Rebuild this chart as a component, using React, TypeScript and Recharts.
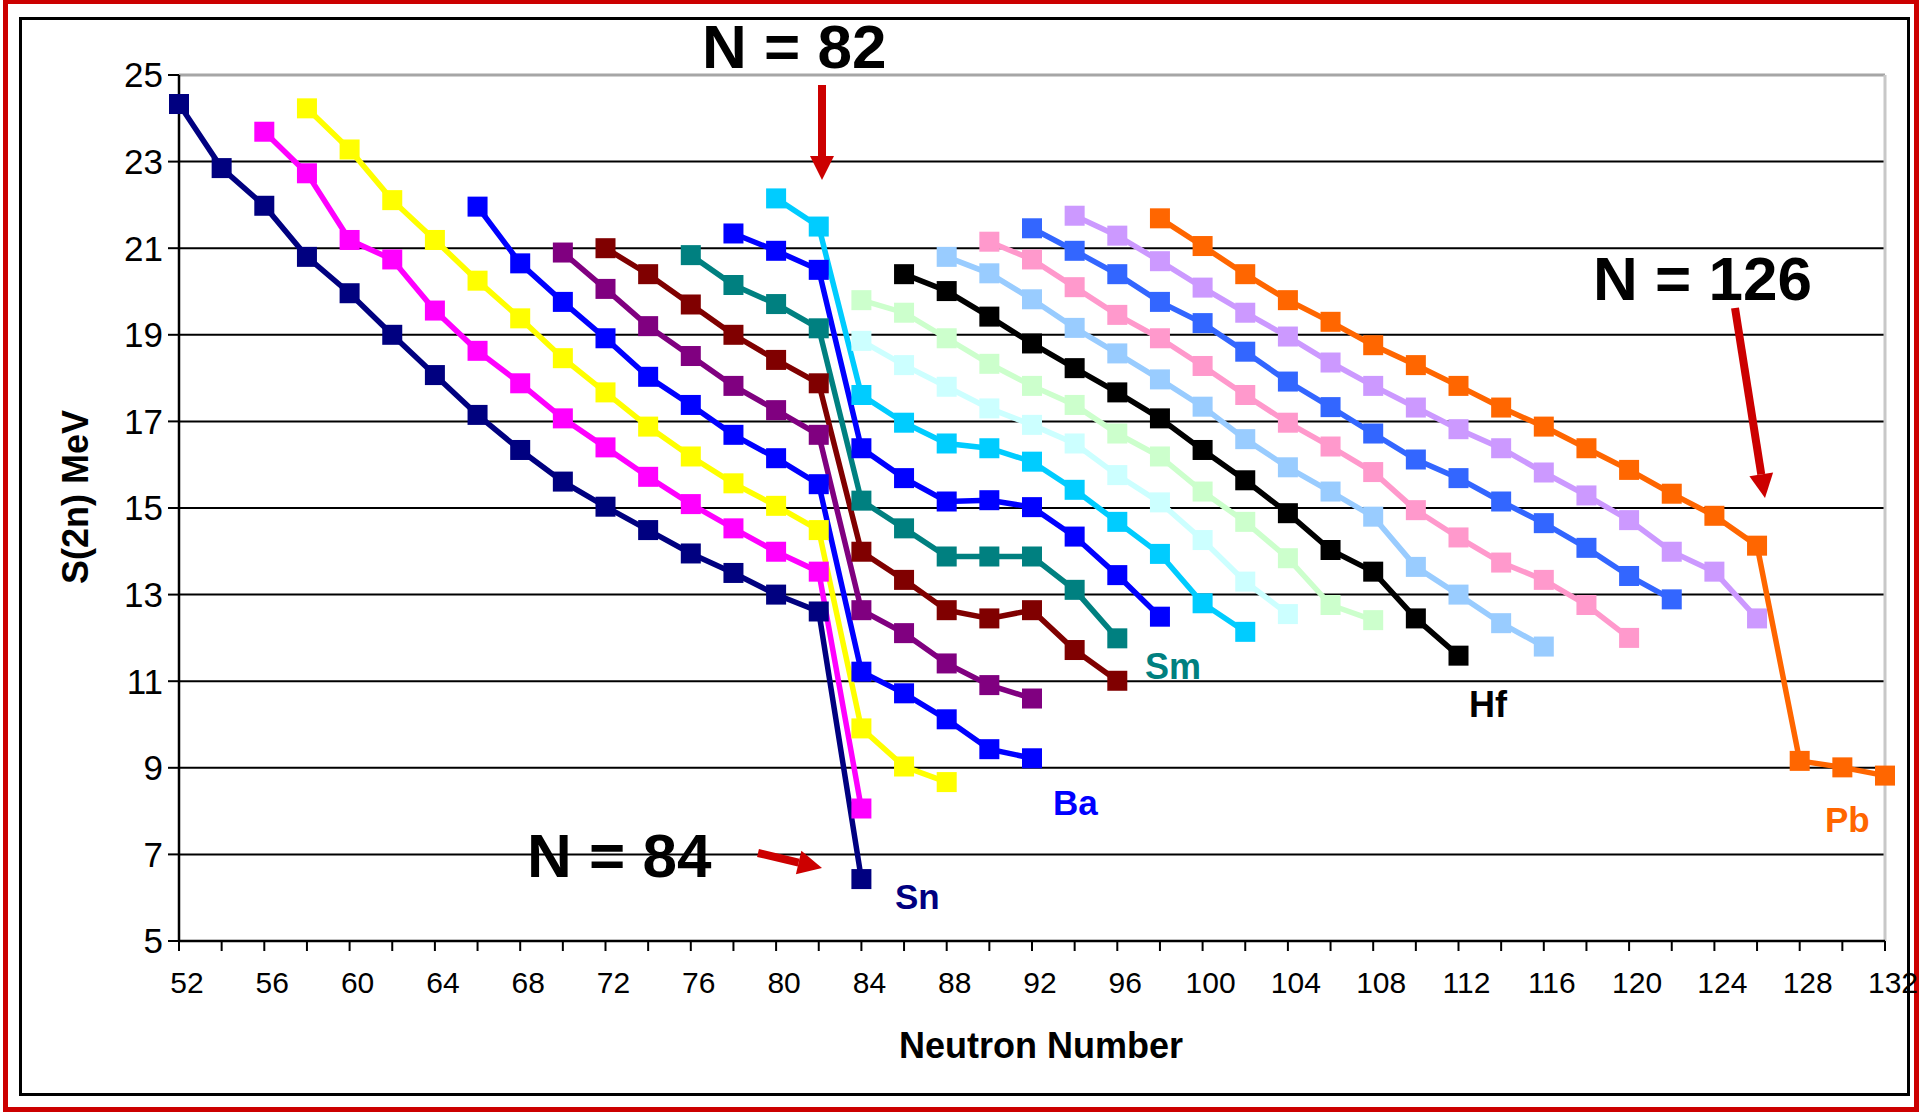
import { LineChart, Line, XAxis, YAxis, CartesianGrid, ReferenceLine } from 'recharts';

// even neutron numbers on the x axis
const NEUTRONS = [
  52, 54, 56, 58, 60, 62, 64, 66, 68, 70, 72, 74, 76, 78, 80, 82, 84, 86, 88, 90, 92,
  94, 96, 98, 100, 102, 104, 106, 108, 110, 112, 114, 116, 118, 120, 122, 124, 126, 128, 130, 132,
];
const Y_TICKS = [5, 7, 9, 11, 13, 15, 17, 19, 21, 23, 25];

// S(2n) in MeV for each isotope chain, one value per even N starting at `from`
const SN = [24.33, 22.85, 21.98, 20.8, 19.96, 19.0, 18.07, 17.15, 16.34, 15.61, 15.03, 14.49, 13.95, 13.5, 13.0, 12.61, 6.43];
const TE = [23.69, 22.73, 21.19, 20.74, 19.56, 18.63, 17.88, 17.07, 16.4, 15.72, 15.09, 14.53, 13.99, 13.53, 8.06];
const XE = [24.23, 23.28, 22.11, 21.19, 20.25, 19.38, 18.46, 17.67, 16.88, 16.19, 15.57, 15.05, 14.49, 9.91, 9.03, 8.67];
const BA = [21.96, 20.65, 19.76, 18.92, 18.03, 17.38, 16.69, 16.15, 15.55, 11.22, 10.72, 10.12, 9.43, 9.22];
const CE = [20.9, 20.06, 19.2, 18.51, 17.82, 17.26, 16.69, 12.64, 12.11, 11.41, 10.91, 10.6];
const ND = [21.0, 20.4, 19.7, 19.0, 18.42, 17.88, 13.99, 13.34, 12.64, 12.45, 12.64, 11.72, 11.01];
const SM = [20.84, 20.15, 19.71, 19.15, 15.17, 14.53, 13.88, 13.88, 13.88, 13.11, 11.99];
const GD = [21.34, 20.94, 20.5, 16.38, 15.69, 15.15, 15.18, 15.02, 14.34, 13.45, 12.49];
const DY = [22.15, 21.5, 17.61, 16.97, 16.49, 16.38, 16.07, 15.42, 14.68, 13.94, 12.8, 12.14];
const ER = [18.86, 18.3, 17.8, 17.3, 16.92, 16.49, 15.76, 15.13, 14.26, 13.3, 12.55];
const YB = [19.8, 19.51, 18.92, 18.33, 17.82, 17.38, 16.72, 16.19, 15.38, 14.68, 13.84, 12.76, 12.41];
const HF = [20.4, 20.01, 19.42, 18.8, 18.23, 17.67, 17.07, 16.34, 15.64, 14.88, 14.03, 13.53, 12.45, 11.59];
const W = [20.8, 20.42, 19.82, 19.16, 18.57, 17.97, 17.34, 16.59, 15.94, 15.38, 14.8, 13.64, 13.0, 12.34, 11.8];
const OS = [21.15, 20.74, 20.1, 19.46, 18.92, 18.28, 17.61, 16.97, 16.42, 15.83, 14.95, 14.32, 13.74, 13.34, 12.76, 12.0];
const PT = [21.46, 20.94, 20.4, 19.76, 19.27, 18.61, 17.92, 17.33, 16.72, 16.12, 15.69, 15.15, 14.65, 14.08, 13.43, 12.89];
const HG = [21.75, 21.29, 20.7, 20.09, 19.51, 18.96, 18.36, 17.82, 17.32, 16.82, 16.38, 15.82, 15.29, 14.72, 13.99, 13.53, 12.45];
const PB = [21.69, 21.05, 20.4, 19.8, 19.3, 18.76, 18.3, 17.82, 17.32, 16.88, 16.38, 15.88, 15.33, 14.82, 14.13, 9.16, 9.01, 8.82];

const SERIES = [
  { name: 'Sn', from: 52, values: SN, color: '#000080' },
  { name: 'Te', from: 56, values: TE, color: '#FF00FF' },
  { name: 'Xe', from: 58, values: XE, color: '#FFFF00' },
  { name: 'Ba', from: 66, values: BA, color: '#0000FF' },
  { name: 'Ce', from: 70, values: CE, color: '#800080' },
  { name: 'Nd', from: 72, values: ND, color: '#800000' },
  { name: 'Sm', from: 76, values: SM, color: '#008080' },
  { name: 'Gd', from: 78, values: GD, color: '#0000FF' },
  { name: 'Dy', from: 80, values: DY, color: '#00CCFF' },
  { name: 'Er', from: 84, values: ER, color: '#CCFFFF' },
  { name: 'Yb', from: 84, values: YB, color: '#CCFFCC' },
  { name: 'Hf', from: 86, values: HF, color: '#000000' },
  { name: 'W', from: 88, values: W, color: '#99CCFF' },
  { name: 'Os', from: 90, values: OS, color: '#FF99CC' },
  { name: 'Pt', from: 92, values: PT, color: '#3366FF' },
  { name: 'Hg', from: 94, values: HG, color: '#CC99FF' },
  { name: 'Pb', from: 98, values: PB, color: '#FF6600' },
];

const toRows = (from: number, values: number[]) => {
  const start = NEUTRONS.indexOf(from);
  return values.map((s, i) => ({ n: NEUTRONS[start + i], s }));
};

const squareDot = (color: string) => (props: any) => {
  const { cx, cy, index } = props;
  if (cx == null || cy == null) return <g key={`e-${index}`} />;
  return <rect key={`d-${index}`} x={cx - 10} y={cy - 10} width={20} height={20} fill={color} />;
};

const FONT = '"Liberation Sans", Arial, Helvetica, sans-serif';
const RED = '#CC0000';

// labels only on every 4th neutron number, nudged right like the original
const NeutronTick = (props: any) => {
  const { x, y, payload } = props;
  const v = payload.value;
  if ((v - 52) % 4 !== 0) return <g />;
  return (
    <text x={x + 8} y={y} dy="0.71em" textAnchor="middle" fontSize={30} fill="#000" fontFamily={FONT}>
      {v}
    </text>
  );
};

// arrow polygon from (x1,y1) to tip (x2,y2)
const Arrow = ({ x1, y1, x2, y2 }: { x1: number; y1: number; x2: number; y2: number }) => {
  const dx = x2 - x1;
  const dy = y2 - y1;
  const len = Math.sqrt(dx * dx + dy * dy);
  const ux = dx / len;
  const uy = dy / len;
  const head = 24;
  const half = 12;
  const bx = x2 - ux * head;
  const by = y2 - uy * head;
  return (
    <g>
      <line x1={x1} y1={y1} x2={bx} y2={by} stroke={RED} strokeWidth={8} />
      <polygon
        points={`${x2},${y2} ${bx - uy * half},${by + ux * half} ${bx + uy * half},${by - ux * half}`}
        fill={RED}
      />
    </g>
  );
};

export default function App() {
  return (
    <div style={{ position: 'absolute', left: 0, top: 0, width: 1922, height: 1112, background: '#fff', fontFamily: FONT, overflow: 'hidden' }}>
      <div style={{ position: 'absolute', left: 3, top: -1, width: 1916, height: 1113, border: `5px solid ${RED}`, boxSizing: 'border-box' }} />
      <div style={{ position: 'absolute', left: 19, top: 17, width: 1891, height: 1079, border: '3px solid #000', boxSizing: 'border-box' }} />

      <div style={{ position: 'absolute', left: 0, top: 0 }}>
        <LineChart width={1922} height={1112} margin={{ top: 75, right: 37, left: 0, bottom: 111 }}>
          <CartesianGrid horizontal vertical={false} stroke="#000" strokeWidth={2} />
          <XAxis
            type="number"
            dataKey="n"
            domain={[52, 132]}
            ticks={NEUTRONS}
            interval={0}
            height={60}
            axisLine={{ stroke: '#000', strokeWidth: 2.5 }}
            tickLine={{ stroke: '#000', strokeWidth: 2 }}
            tickSize={10}
            tickMargin={21}
            tick={<NeutronTick />}
          />
          <YAxis
            type="number"
            domain={[5, 25]}
            ticks={Y_TICKS}
            interval={0}
            width={179}
            axisLine={{ stroke: '#000', strokeWidth: 2.5 }}
            tickLine={{ stroke: '#000', strokeWidth: 2 }}
            tickSize={11}
            tickMargin={5}
            tick={{ fill: '#000', fontSize: 35, fontFamily: FONT }}
          />
          <ReferenceLine y={25} stroke="#A6A6A6" strokeWidth={3} />
          <ReferenceLine x={132} stroke="#C8C8C8" strokeWidth={3} />
          {SERIES.map((sr) => (
            <Line
              key={sr.name}
              data={toRows(sr.from, sr.values)}
              dataKey="s"
              name={sr.name}
              type="linear"
              stroke={sr.color}
              strokeWidth={5.5}
              dot={squareDot(sr.color)}
              activeDot={false}
              isAnimationActive={false}
            />
          ))}
        </LineChart>
      </div>

      <svg width={1922} height={1112} style={{ position: 'absolute', left: 0, top: 0, pointerEvents: 'none' }}>
        <g fontFamily={FONT} fontWeight="bold">
          <text x={702} y={68} fontSize={62} fill="#000">N = 82</text>
          <text x={1593} y={300} fontSize={62} fill="#000">N = 126</text>
          <text x={527} y={877} fontSize={62} fill="#000">N = 84</text>

          <text x={895} y={909} fontSize={35} fill="#000080">Sn</text>
          <text x={1053} y={815} fontSize={35} fill="#0000FF">Ba</text>
          <text x={1145} y={679} fontSize={36} fill="#008080">Sm</text>
          <text x={1469} y={717} fontSize={36} fill="#000">Hf</text>
          <text x={1825} y={832} fontSize={35} fill="#FF6600">Pb</text>

          <text x={1041} y={1058} fontSize={36} fill="#000" textAnchor="middle">Neutron Number</text>
          <text transform="translate(88,497) rotate(-90)" fontSize={36} fill="#000" textAnchor="middle">S(2n) MeV</text>
        </g>
        <Arrow x1={822} y1={85} x2={822} y2={180} />
        <Arrow x1={1735} y1={308} x2={1765} y2={498} />
        <Arrow x1={758} y1={853} x2={822} y2={868} />
      </svg>
    </div>
  );
}
